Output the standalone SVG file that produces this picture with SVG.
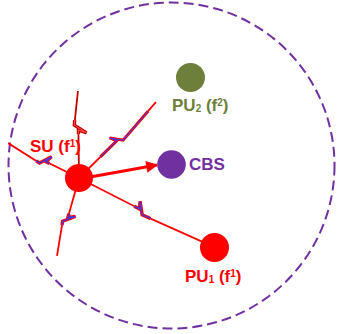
<svg xmlns="http://www.w3.org/2000/svg" width="337" height="334" viewBox="0 0 337 334">
<defs>
<style>
.lbl{font-family:"Liberation Sans",Arial,sans-serif;font-weight:bold;font-size:17px}
.red{fill:#ff0000}.grn{fill:#6d7f3b}.pur{fill:#7030a0}
.sm{font-size:10px}
.bolt{fill:none;stroke:#ff0000;stroke-width:1.8}
.thk{fill:none;stroke:#ff0000;stroke-width:3.4;stroke-linejoin:miter;stroke-miterlimit:3}
.bl{fill:none;stroke:#3a3af0;stroke-width:1.3;stroke-linejoin:miter;stroke-miterlimit:3}
</style>
<marker id="ah" viewBox="0 0 10 10" refX="9" refY="5" markerWidth="4.8" markerHeight="4" markerUnits="strokeWidth" orient="auto">
<path d="M0 0 L10 5 L0 10 Z" fill="#ff0000"/>
</marker>
</defs>
<rect width="337" height="334" fill="#ffffff"/>
<circle id="range" cx="171.5" cy="165.5" r="163" fill="none" stroke="#7030a0" stroke-width="2" stroke-dasharray="10 5"/>
<g id="connectors">
<g id="bolt-up" transform="translate(79 178) rotate(-90.7) scale(1 -1)">
<path d="M0 0 L48 0 L45 -8 L53 4 L87 0" fill="none" stroke="#c00000" stroke-width="1.8"/>
<path d="M44 0 L48 0 L45 -8 L53 4 L58 3.6" fill="none" stroke="#c00000" stroke-width="3.4" stroke-miterlimit="3"/>
<path d="M44 0 L48 0 L45 -8 L53 4 L58 3.6" fill="none" stroke="#ff4040" stroke-width="1.2" stroke-miterlimit="3"/>
</g>
<g id="bolt-upright" transform="translate(79 178) rotate(-44.6)">
<path class="bolt" d="M0 0 L53 0 L50 -7 L58 4 L108 0"/>
<path class="thk" d="M30 0 L53 0 L50 -7 L58 4 L96 0.9" style="stroke-width:3"/>
<path class="bl" d="M30 0 L53 0 L50 -7 L58 4 L96 0.9" style="stroke-width:1"/>
</g>
<g id="bolt-left" transform="translate(79 178) rotate(-153.8) scale(1 -1)">
<path class="bolt" d="M0 0 L37 0 L34 -7 L42 4 L79 0"/>
<path class="thk" d="M33 0 L37 0 L34 -7 L42 4 L46 3.6"/>
<path class="bl" d="M33 0 L37 0 L34 -7 L42 4 L46 3.6"/>
</g>
<g id="bolt-down" transform="translate(79 178) rotate(105.75)">
<path class="bolt" d="M0 0 L41 0 L38 -7 L46 4 L81 0"/>
<path class="thk" d="M37 0 L41 0 L38 -7 L46 4 L50 3.6"/>
<path class="bl" d="M37 0 L41 0 L38 -7 L46 4 L50 3.6"/>
</g>
<g id="bolt-pu1" transform="translate(79 178) rotate(27.07)">
<path class="bolt" d="M0 0 L68 0 L65 -7 L73 4 L152 0"/>
<path class="thk" d="M62 0 L68 0 L65 -7 L73 4 L82 3.5"/>
<path class="bl" d="M62 0 L68 0 L65 -7 L73 4 L82 3.5"/>
</g>
<line id="arrow-cbs" x1="90" y1="177" x2="157" y2="165" stroke="#ff0000" stroke-width="3" marker-end="url(#ah)"/>
</g>
<g id="SU">
<circle cx="79" cy="178" r="14" fill="#ff0000"/>
<text class="lbl red" x="30" y="152">SU (f<tspan class="sm" dy="-5">1</tspan><tspan dy="5">)</tspan></text>
</g>
<g id="PU2">
<circle cx="190.5" cy="77.5" r="14.5" fill="#6d7f3b"/>
<text class="lbl grn" x="172" y="111">PU<tspan class="sm" dy="1">2</tspan><tspan dy="-1"> (f</tspan><tspan class="sm" dy="-5">2</tspan><tspan dy="5">)</tspan></text>
</g>
<g id="CBS">
<circle cx="171.5" cy="164.5" r="14.3" fill="#7030a0"/>
<text class="lbl pur" x="189" y="170">CBS</text>
</g>
<g id="PU1">
<circle cx="214.5" cy="247.5" r="14.5" fill="#ff0000"/>
<text class="lbl red" x="185" y="282">PU<tspan class="sm" dy="1">1</tspan><tspan dy="-1"> (f</tspan><tspan class="sm" dy="-5">1</tspan><tspan dy="5">)</tspan></text>
</g>
</svg>
